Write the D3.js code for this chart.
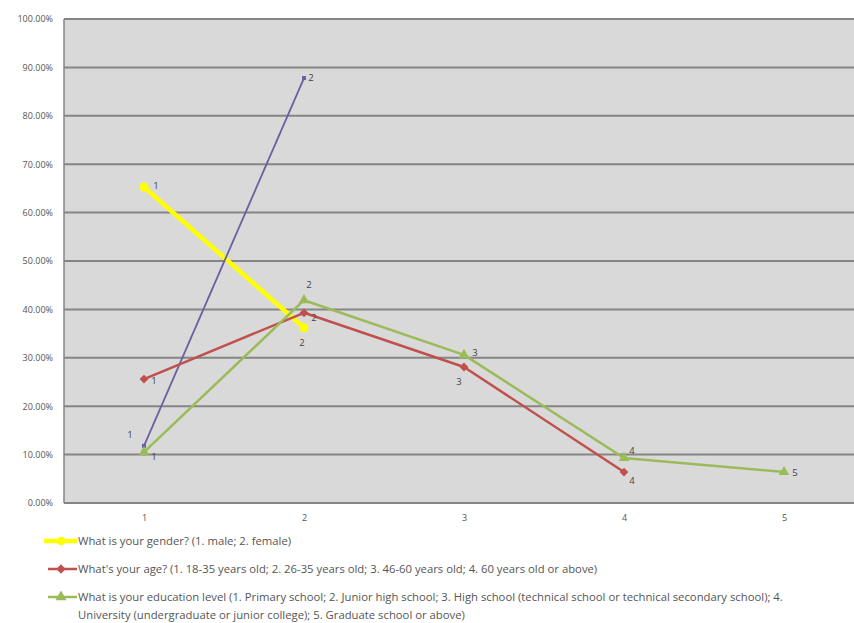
<!DOCTYPE html>
<html>
<head>
<meta charset="utf-8">
<script src="https://cdn.jsdelivr.net/npm/d3@7"></script>
<style>
  body { margin: 0; background: #fff; }
  svg { display: block; }
  text { font-family: "Open Sans", "Liberation Sans", Arial, sans-serif; }
</style>
</head>
<body>
<svg id="chart" width="854" height="623"></svg>
<script>
// Answer categories on the x axis
const categories = [1, 2, 3, 4, 5];
// Share of respondents per answer, in percent
const genderValues = [65.3, 36.2];
const unnamedValues = [11.8, 87.8];
const ageValues = [25.6, 39.3, 28.1, 6.4];
const educationValues = [10.5, 41.9, 30.6, 9.3, 6.4];
// Y axis tick values (percent)
const yTicks = [0, 10, 20, 30, 40, 50, 60, 70, 80, 90, 100];
// Legend texts
const legendGender = "What is your gender? (1. male; 2. female)";
const legendAge = "What's your age? (1. 18-35 years old; 2. 26-35 years old; 3. 46-60 years old; 4. 60 years old or above)";
const legendEducation = ["What is your education level (1. Primary school; 2. Junior high school; 3. High school (technical school or technical secondary school); 4.",
  "University (undergraduate or junior college); 5. Graduate school or above)"];

const svg = d3.select("#chart");
const plot = { left: 64, right: 864, top: 19, bottom: 503 };

const x = d3.scalePoint().domain(categories).range([plot.left, plot.right]).padding(0.5);
const y = d3.scaleLinear().domain([0, 100]).range([plot.bottom, plot.top]);

// plot background
svg.append("rect")
  .attr("x", plot.left).attr("y", plot.top)
  .attr("width", plot.right - plot.left).attr("height", plot.bottom - plot.top)
  .attr("fill", "#d9d9d9");

// horizontal gridlines
svg.append("g").selectAll("line").data(yTicks).join("line")
  .attr("x1", plot.left).attr("x2", plot.right)
  .attr("y1", d => y(d)).attr("y2", d => y(d))
  .attr("stroke", "#858585").attr("stroke-width", 2);

// left border
svg.append("line")
  .attr("x1", plot.left).attr("x2", plot.left)
  .attr("y1", plot.top).attr("y2", plot.bottom)
  .attr("stroke", "#858585").attr("stroke-width", 1.5);

// y axis
const yAxis = d3.axisLeft(y).tickValues(yTicks).tickSize(0).tickPadding(11)
  .tickFormat(d => d.toFixed(2) + "%");
const gy = svg.append("g").attr("transform", `translate(${plot.left},0)`).call(yAxis);
gy.select(".domain").remove();
gy.selectAll("text").attr("font-size", 9).attr("fill", "#555")
  .attr("font-family", "'Open Sans', 'Liberation Sans', Arial, sans-serif");

// x axis
const xAxis = d3.axisBottom(x).tickSize(0).tickPadding(12);
const gx = svg.append("g").attr("transform", `translate(0,${plot.bottom})`).call(xAxis);
gx.select(".domain").remove();
gx.selectAll("text").attr("font-size", 9).attr("fill", "#555")
  .attr("font-family", "'Open Sans', 'Liberation Sans', Arial, sans-serif");

const series = [
  { name: "gender", values: genderValues, color: "#ffff00", width: 4.5, marker: "circle", size: 4,
    labelPos: [[12, 0], [-2, 16]] },
  { name: "unnamed", values: unnamedValues, color: "#6a5fa0", width: 1.8, marker: "square", size: 2,
    labelPos: [[-14, -10], [7, 0]] },
  { name: "age", values: ageValues, color: "#c0504d", width: 2.5, marker: "diamond", size: 3.5,
    labelPos: [[10, 2], [10, 6], [-5, 15], [8, 9]] },
  { name: "education", values: educationValues, color: "#9bbb59", width: 2.5, marker: "triangle", size: 3.5,
    labelPos: [[10, 5], [5, -15], [11, -1], [8, -7], [11, 1]] }
];

const line = d3.line().x(d => x(d.cat)).y(d => y(d.v));

const symbolFor = m => m === "circle" ? d3.symbolCircle
  : m === "square" ? d3.symbolSquare
  : m === "diamond" ? d3.symbolDiamond2
  : d3.symbolTriangle;

series.forEach(s => {
  const pts = s.values.map((v, i) => ({ cat: categories[i], v, i }));
  const g = svg.append("g");
  g.append("path").datum(pts)
    .attr("d", line).attr("fill", "none")
    .attr("stroke", s.color).attr("stroke-width", s.width)
    .attr("stroke-linejoin", "round");
  g.selectAll("path.m").data(pts).join("path").attr("class", "m")
    .attr("transform", d => `translate(${x(d.cat)},${y(d.v)})`)
    .attr("d", d3.symbol().type(symbolFor(s.marker)).size(s.size * s.size * 4))
    .attr("fill", s.color);
  g.selectAll("text").data(pts).join("text")
    .attr("x", d => x(d.cat) + s.labelPos[d.i][0])
    .attr("y", d => y(d.v) + s.labelPos[d.i][1])
    .attr("font-size", 9.5).attr("fill", "#444").attr("text-anchor", "middle")
    .attr("dominant-baseline", "middle")
    .text(d => d.cat);
});

// legend
const legend = [
  { color: "#ffff00", width: 4.5, marker: "circle", y: 541, x1: 44, lines: [legendGender] },
  { color: "#c0504d", width: 2.5, marker: "diamond", y: 569, x1: 48, lines: [legendAge] },
  { color: "#9bbb59", width: 2.5, marker: "triangle", y: 597, x1: 48, lines: legendEducation }
];
const lg = svg.append("g");
legend.forEach(l => {
  lg.append("line").attr("x1", l.x1).attr("x2", 77).attr("y1", l.y).attr("y2", l.y)
    .attr("stroke", l.color).attr("stroke-width", l.width);
  lg.append("path").attr("transform", `translate(61,${l.y})`)
    .attr("d", d3.symbol().type(symbolFor(l.marker)).size(55)).attr("fill", l.color);
  l.lines.forEach((t, k) => {
    lg.append("text").attr("x", 78).attr("y", l.y + 4 + k * 18)
      .attr("font-size", 11.3).attr("fill", "#555").text(t);
  });
});
</script>
</body>
</html>
